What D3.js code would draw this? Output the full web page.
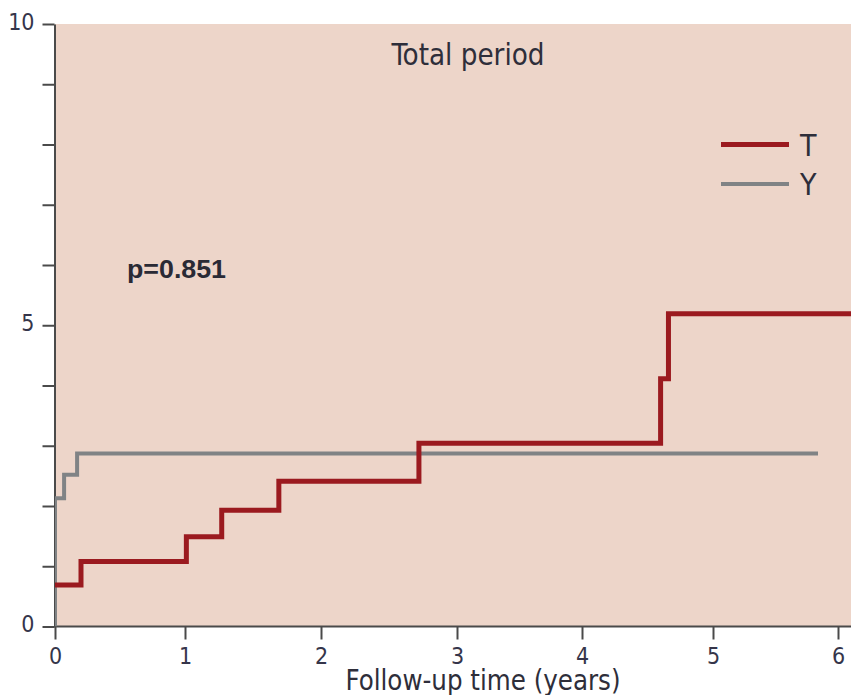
<!DOCTYPE html>
<html>
<head>
<meta charset="utf-8">
<script src="https://cdn.jsdelivr.net/npm/d3@7"></script>
<style>
  html, body { margin: 0; padding: 0; background: #ffffff; }
  svg { display: block; }
</style>
</head>
<body>
<svg id="chart" width="851" height="695"></svg>
<script>
// ---- data ----
const xTickValues = [0, 1, 2, 3, 4, 5, 6];
const yTickValues = [0, 1, 2, 3, 4, 5, 6, 7, 8, 9, 10];
const yTickLabels = [0, 5, 10];

const seriesNames = ["T", "Y"];
const tTimes  = [0, 0.20, 1.01, 1.27, 1.69, 2.72, 4.60, 4.66, 6.11];
const tValues = [0.69, 1.08, 1.49, 1.93, 2.41, 3.04, 4.11, 5.19, 5.19];
const yTimes  = [0, 0, 0.07, 0.17, 5.84];
const yValues = [0, 2.13, 2.52, 2.87, 2.87];

const titleText = "Total period";
const pText = "p=0.851";
const xAxisTitle = "Follow-up time (years)";

// ---- layout ----
const W = 851, H = 695;
const plotLeft = 55, plotRight = 851, plotTop = 24, plotBottom = 626.5;
// axis calibration (the printed axis is slightly uneven)
const xRangePx = [55, 185, 321, 457, 582, 713, 838];

const x = d3.scaleLinear().domain(xTickValues).range(xRangePx);
const y = d3.scaleLinear().domain([0, 10]).range([plotBottom, plotTop]);

const svg = d3.select("#chart");
const FONT = "'Liberation Sans Narrow', 'DejaVu Sans Condensed', 'Liberation Sans', sans-serif";
const axisColor = "#4a4a4a";
const textColor = "#35354a";

// background panel
svg.append("rect")
  .attr("x", plotLeft).attr("y", plotTop)
  .attr("width", plotRight - plotLeft).attr("height", plotBottom - plotTop)
  .attr("fill", "#edd5c9");

// clip
svg.append("defs").append("clipPath").attr("id", "clip")
  .append("rect")
  .attr("x", plotLeft).attr("y", plotTop - 10)
  .attr("width", plotRight - plotLeft).attr("height", plotBottom - plotTop + 10);

// y axis
const yAxis = d3.axisLeft(y).tickValues(yTickValues).tickSize(12).tickSizeOuter(0)
  .tickFormat(d => yTickLabels.includes(d) ? d3.format("d")(d) : "");
const gy = svg.append("g").attr("transform", `translate(${plotLeft - 0.5},0)`).call(yAxis);
gy.select(".domain").attr("stroke", axisColor).attr("stroke-width", 2);
gy.selectAll(".tick line").attr("stroke", axisColor).attr("stroke-width", 2);
gy.selectAll(".tick text")
  .attr("x", -20).attr("dy", "0.22em")
  .attr("fill", textColor)
  .style("font-family", FONT).style("font-size", "23px");

// x axis
const xAxis = d3.axisBottom(x).tickValues(xTickValues).tickSize(13).tickSizeOuter(0)
  .tickFormat(d3.format("d"));
const gx = svg.append("g").attr("transform", `translate(0,${plotBottom})`).call(xAxis);
gx.select(".domain").remove();
gx.append("line").attr("x1", plotLeft - 1).attr("x2", plotRight).attr("y1", 0).attr("y2", 0)
  .attr("stroke", axisColor).attr("stroke-width", 2);
gx.selectAll(".tick line").attr("stroke", axisColor).attr("stroke-width", 2);
gx.selectAll(".tick text")
  .attr("y", 37).attr("dy", 0)
  .attr("fill", textColor)
  .style("font-family", FONT).style("font-size", "23px");

// x axis title
svg.append("text")
  .attr("x", 483).attr("y", 690)
  .attr("text-anchor", "middle")
  .attr("fill", "#2e2e3a")
  .attr("textLength", 275).attr("lengthAdjust", "spacingAndGlyphs")
  .style("font-family", FONT).style("font-size", "29px")
  .text(xAxisTitle);

// step lines
const line = d3.line().x(d => x(d[0])).y(d => y(d[1])).curve(d3.curveStepAfter);
const gLines = svg.append("g").attr("clip-path", "url(#clip)");

gLines.append("path")
  .datum(yTimes.map((t, i) => [t, yValues[i]]))
  .attr("d", line)
  .attr("fill", "none").attr("stroke", "#808385").attr("stroke-width", 4)
  .attr("stroke-linejoin", "miter");

gLines.append("path")
  .datum(tTimes.map((t, i) => [t, tValues[i]]))
  .attr("d", line)
  .attr("fill", "none").attr("stroke", "#9b1a1f").attr("stroke-width", 5)
  .attr("stroke-linejoin", "miter");

// title
svg.append("text")
  .attr("x", 468).attr("y", 65)
  .attr("text-anchor", "middle")
  .attr("fill", "#2e2e3a")
  .attr("textLength", 153).attr("lengthAdjust", "spacingAndGlyphs")
  .style("font-family", FONT).style("font-size", "30px")
  .text(titleText);

// p-value
svg.append("text")
  .attr("x", 127).attr("y", 278)
  .attr("fill", "#2a2a35")
  .attr("textLength", 99).attr("lengthAdjust", "spacingAndGlyphs")
  .style("font-family", "'Liberation Sans', Arial, sans-serif")
  .style("font-weight", "bold").style("font-size", "25px")
  .text(pText);

// legend
const legendColors = ["#9b1a1f", "#808385"];
const legendWidths = [5, 4];
const legendY = [144.5, 184];
const lg = svg.append("g");
seriesNames.forEach((name, i) => {
  lg.append("line")
    .attr("x1", 721).attr("x2", 789)
    .attr("y1", legendY[i]).attr("y2", legendY[i])
    .attr("stroke", legendColors[i]).attr("stroke-width", legendWidths[i]);
  lg.append("text")
    .attr("x", 800).attr("y", legendY[i] + 11)
    .attr("fill", "#2e2e3a")
    .style("font-family", FONT).style("font-size", "30px")
    .text(name);
});
</script>
</body>
</html>
